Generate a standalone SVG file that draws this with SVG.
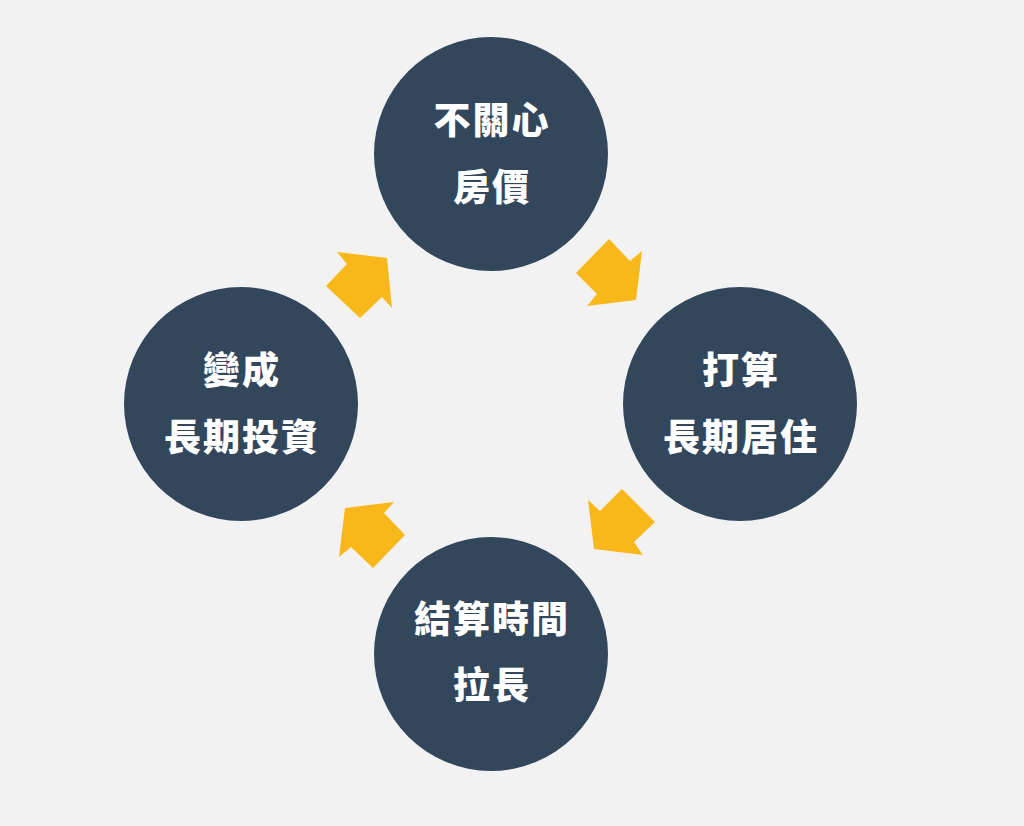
<svg xmlns="http://www.w3.org/2000/svg" width="1024" height="826" viewBox="0 0 1024 826">
<style>
.c{fill:#33475c}
.a{fill:#f8b819}
.t{fill:#ffffff;font-family:"Noto Sans CJK TC","Noto Sans CJK SC",sans-serif;font-weight:900;font-size:37px;letter-spacing:2px;text-anchor:middle}
</style>
<rect width="1024" height="826" fill="#f2f2f2"/>
<g id="connectors">
<polygon class="a" points="609,239 630,261 642,251 636,300 587,306 597,294 576,273"/>
<polygon class="a" points="622,489 655,522 634,542 643,555 594,549 588,500 600,511"/>
<polygon class="a" points="345,508 394,502 384,513 405,535 373,568 351,547 339,557"/>
<polygon class="a" points="337,252 387,258 392,308 382,297 360,318 326,286 347,264"/>
</g>
<g id="node-top">
<circle class="c" cx="491" cy="154" r="117"/>
<text class="t" x="492" y="134">不關心</text>
<text class="t" x="492" y="201">房價</text>
</g>
<g id="node-right">
<circle class="c" cx="740" cy="404" r="117"/>
<text class="t" x="741" y="384">打算</text>
<text class="t" x="741" y="451">長期居住</text>
</g>
<g id="node-bottom">
<circle class="c" cx="491" cy="654" r="117"/>
<text class="t" x="492" y="633">結算時間</text>
<text class="t" x="492" y="699">拉長</text>
</g>
<g id="node-left">
<circle class="c" cx="241" cy="404" r="117"/>
<text class="t" x="242" y="384">變成</text>
<text class="t" x="242" y="451">長期投資</text>
</g>
</svg>
